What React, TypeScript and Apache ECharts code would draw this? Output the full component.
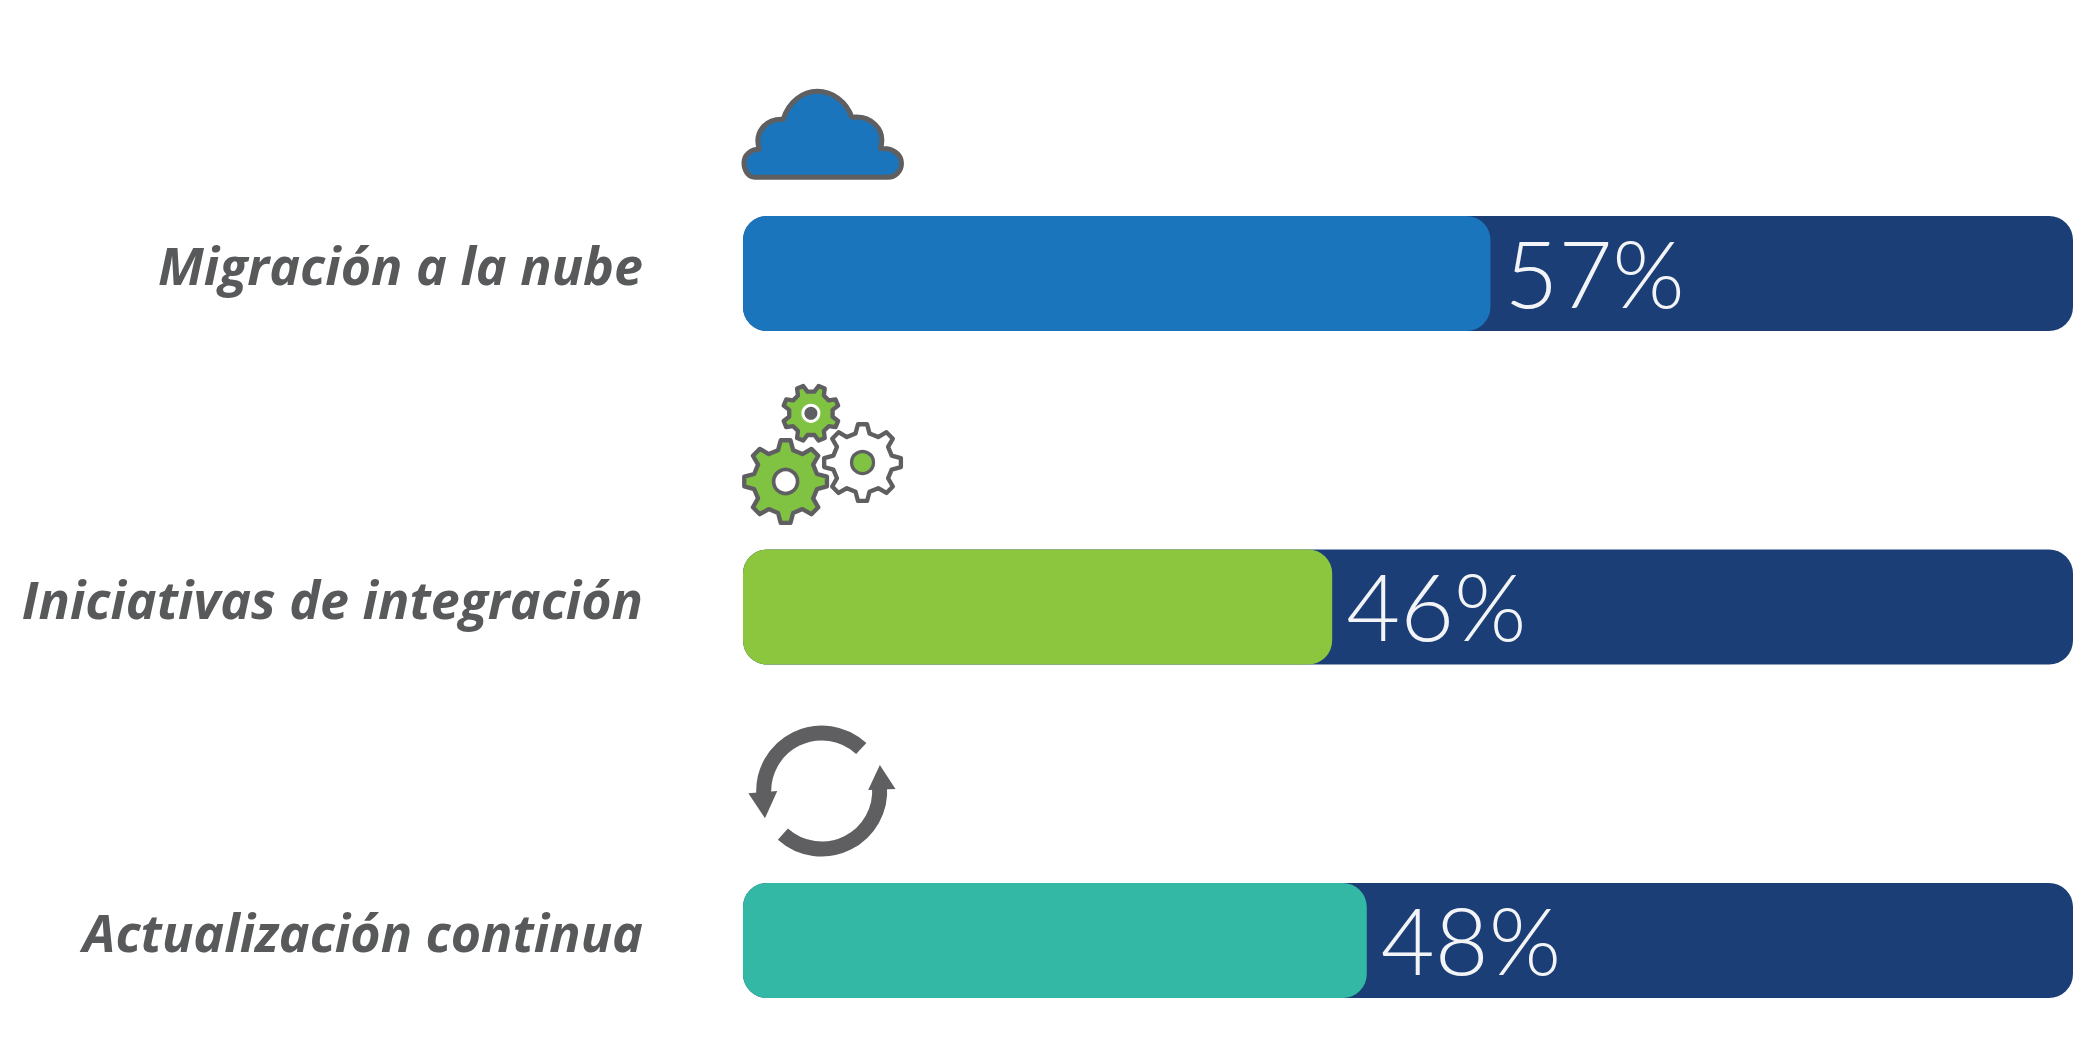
import React, { useEffect, useRef } from "react";
import * as echarts from "echarts";

const categories = ["Migración a la nube", "Iniciativas de integración", "Actualización continua"];
const valueLabels = ["57%", "46%", "48%"];
// Bar lengths as drawn in the picture, in % of the track (they differ slightly from the printed labels).
const barLengths = [56.2, 44.3, 46.9];
const trackValues = [100, 100, 100];
const barColors = ["#1b75bc", "#8cc63f", "#33b8a5"];
const TRACK = "#1a3e75";
const GREY = "#58595b";
const ICON_GREY = "#5f5f61";
const GREEN = "#80c242";

const cloudPath =
  "M105 322 C82 322 72 298 72 278 C72 255 92 238 118 238 C102 190 135 145 190 148 C205 95 250 64 292 64 C338 64 380 95 396 142 C450 135 500 175 482 236 C520 232 545 255 545 280 C545 305 525 322 505 322 Z";
echarts.graphic.registerShape("cloudIcon", echarts.graphic.extendPath(cloudPath, {}));

function gearPoints(cx: number, cy: number, teeth: number, outer: number, root: number, phase: number) {
  const pts: number[][] = [];
  const step = (Math.PI * 2) / teeth;
  for (let i = 0; i < teeth; i++) {
    const a = phase + i * step;
    [
      [-0.3, root],
      [-0.15, outer],
      [0.15, outer],
      [0.3, root],
    ].forEach(([f, r]) => {
      pts.push([cx + r * Math.cos(a + f * step), cy + r * Math.sin(a + f * step)]);
    });
  }
  return pts;
}

function icons() {
  const gx = 720;
  const gy = 370;
  const s = 1 / 3;
  const gear = (cx: number, cy: number, n: number, o: number, r: number, phase: number, fill: string) => ({
    type: "polygon",
    x: gx,
    y: gy,
    scaleX: s,
    scaleY: s,
    shape: { points: gearPoints(cx, cy, n, o, r, phase) },
    style: { fill, stroke: ICON_GREY, lineWidth: 13, lineJoin: "round" },
  });
  const dot = (cx: number, cy: number, r: number, fill: string, stroke: string, lw: number) => ({
    type: "circle",
    x: gx,
    y: gy,
    scaleX: s,
    scaleY: s,
    shape: { cx, cy, r },
    style: { fill, stroke, lineWidth: lw },
  });
  const cx = 821.7;
  const cy = 791;
  const rx = 720;
  const ry = 710;
  return [
    {
      type: "cloudIcon",
      x: 720,
      y: 70,
      scaleX: s,
      scaleY: s,
      style: { fill: "#1b75bc", stroke: ICON_GREY, lineWidth: 15, lineJoin: "round" },
    },
    gear(273, 130, 8, 85, 66, -Math.PI / 2 + Math.PI / 8, GREEN),
    dot(273, 130, 24, ICON_GREY, "#ffffff", 9),
    gear(197, 335, 8, 125, 97, -Math.PI / 2, GREEN),
    dot(197, 335, 36, "#ffffff", ICON_GREY, 11),
    gear(428, 278, 8, 116, 90, -Math.PI / 2, "#ffffff"),
    dot(428, 278, 33, GREEN, ICON_GREY, 10),
    {
      type: "arc",
      shape: { cx, cy, r: 58, startAngle: (175 * Math.PI) / 180, endAngle: (313 * Math.PI) / 180, clockwise: true },
      style: { fill: "none", stroke: ICON_GREY, lineWidth: 15 },
    },
    {
      type: "arc",
      shape: { cx, cy, r: 58, startAngle: (-5 * Math.PI) / 180, endAngle: (132 * Math.PI) / 180, clockwise: true },
      style: { fill: "none", stroke: ICON_GREY, lineWidth: 15 },
    },
    {
      type: "polygon",
      x: rx,
      y: ry,
      scaleX: s,
      scaleY: s,
      shape: { points: [[85, 250], [172, 243], [135, 325]] },
      style: { fill: ICON_GREY },
    },
    {
      type: "polygon",
      x: rx,
      y: ry,
      scaleX: s,
      scaleY: s,
      shape: { points: [[445, 240], [527, 237], [480, 165]] },
      style: { fill: ICON_GREY },
    },
  ];
}

export default function App() {
  const ref = useRef<HTMLDivElement>(null);
  useEffect(() => {
    document.body.style.margin = "0";
    const chart = echarts.init(ref.current!, undefined, { renderer: "svg" });
    chart.setOption({
      animation: false,
      backgroundColor: "#ffffff",
      grid: { left: 743, width: 1330, top: 273.5, height: 667 },
      xAxis: { type: "value", min: 0, max: 100, show: false },
      yAxis: {
        type: "category",
        inverse: true,
        boundaryGap: false,
        data: categories,
        axisLine: { show: false },
        axisTick: { show: false },
        axisLabel: {
          margin: 100,
          color: GREY,
          fontFamily: "Open Sans",
          fontStyle: "italic",
          fontWeight: 700,
          fontSize: 52,
          verticalAlign: "bottom",
          lineHeight: 18,
        },
      },
      series: [
        {
          type: "bar",
          data: trackValues,
          barWidth: 115,
          barGap: "-100%",
          clip: false,
          silent: true,
          itemStyle: { color: TRACK, borderRadius: 24 },
        },
        {
          type: "bar",
          data: barLengths.map((v, i) => ({ value: v, itemStyle: { color: barColors[i] } })),
          barWidth: 115,
          clip: false,
          itemStyle: { borderRadius: 24 },
          label: {
            show: true,
            position: "right",
            distance: 14,
            offset: [0, -2],
            color: "#f2f4f7",
            fontFamily: "Lato",
            fontWeight: 300,
            fontSize: 93,
            formatter: (p: any) => valueLabels[p.dataIndex],
          },
        },
      ],
      graphic: { elements: icons() },
    });
    return () => chart.dispose();
  }, []);
  return <div ref={ref} style={{ position: "absolute", left: 0, top: 0, width: 2079, height: 1054 }} />;
}
